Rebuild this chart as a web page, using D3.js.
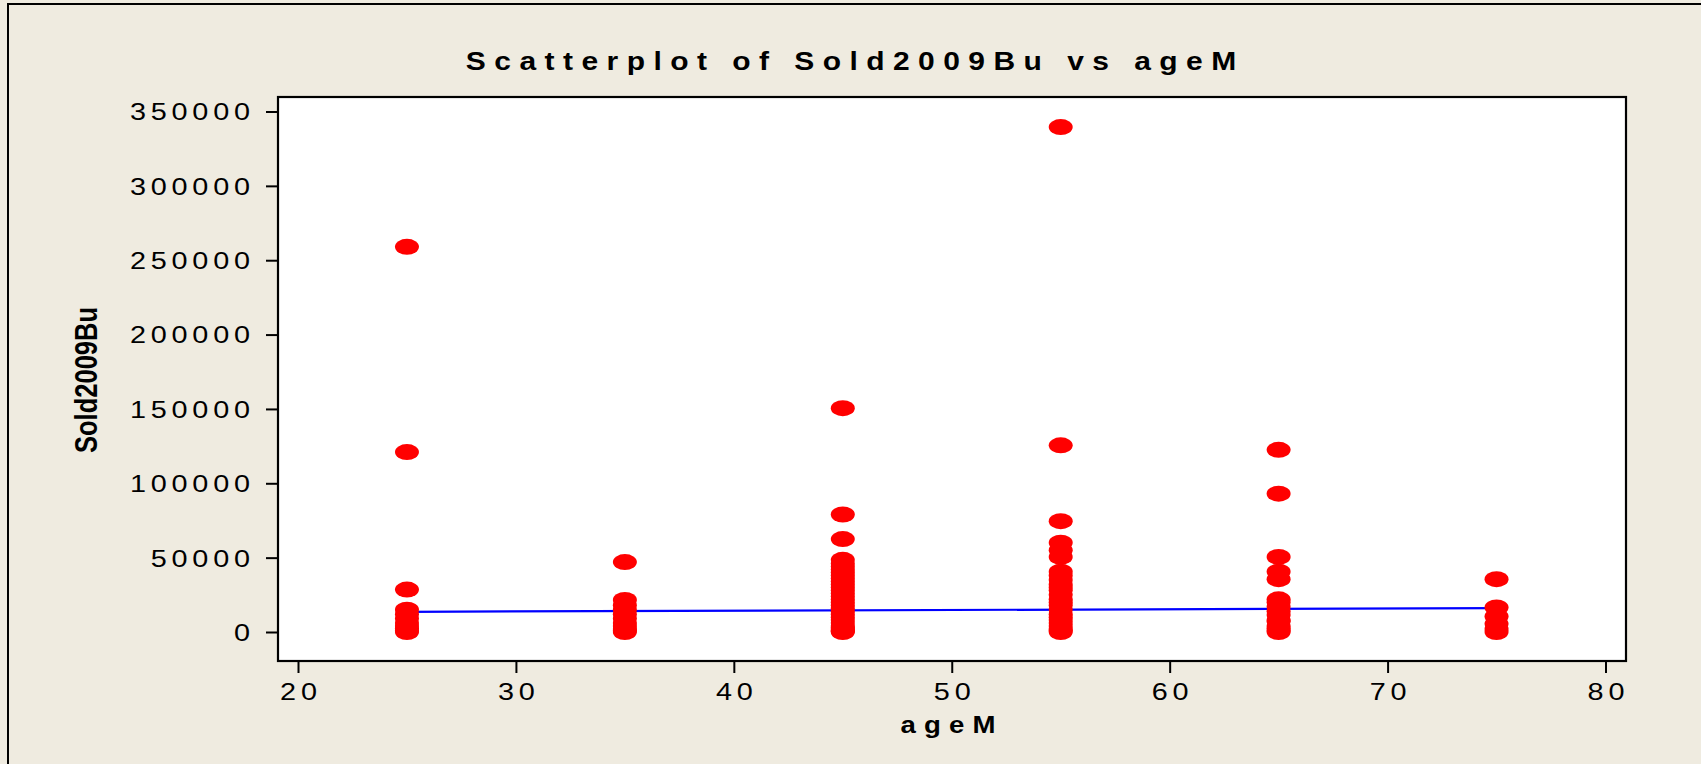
<!DOCTYPE html>
<html>
<head>
<meta charset="utf-8" />
<title>Scatterplot of Sold2009Bu vs ageM</title>
<script src="https://d3js.org/d3.v7.min.js"></script>
<style>
  body { margin: 0; background-color: #efebe0; overflow: hidden; }
  text { font-family: "Liberation Sans", Arial, sans-serif; fill: #000; }
</style>
</head>
<body>
<svg id="chart"></svg>
<script>
// age groups (x) and the Sold2009Bu values
var ages = [25, 35, 45, 55, 65, 75];
var sold25 = [259000, 121000, 28500, 15000, 12000, 9000, 6000, 4000, 2500, 1000, 0];
var sold35 = [47000, 21500, 18000, 15000, 12000, 9000, 6000, 4000, 2000, 1000, 0];
var sold45 = [150500, 79000, 62500, 48500, 46000, 44000, 42000, 40000, 38000, 36000, 34000,
              32000, 30000, 28000, 26000, 24000, 22000, 20000, 18000, 16000, 14000, 12000,
              10000, 8000, 6000, 4000, 3000, 2000, 1000, 500, 0];
var sold55 = [339500, 125500, 74500, 60000, 55000, 50500, 40500, 38000, 35000, 32000, 30000,
              28000, 25000, 22000, 20000, 18000, 15000, 12000, 10000, 8000, 6000, 4000,
              2000, 1000, 0];
var sold65 = [122500, 93000, 50500, 40500, 35500, 22000, 20000, 17000, 14000, 11500, 8000,
              7000, 4000, 2500, 1000, 0];
var sold75 = [35500, 16500, 10500, 5500, 2000, 0];
var soldByAge = [sold25, sold35, sold45, sold55, sold65, sold75];

// fitted regression line end points
var fitAge = [25, 75];
var fitSold = [13600, 16000];

var xTicks = [20, 30, 40, 50, 60, 70, 80];
var yTicks = [0, 50000, 100000, 150000, 200000, 250000, 300000, 350000];

var width = 1701, height = 764;
var plot = { left: 278, right: 1626, top: 97, bottom: 661 };
var sx = 1.2;   // the original picture is stretched sideways
var spacing = 4;

var svg = d3.select("#chart").attr("width", width).attr("height", height);

// outer frame
svg.append("rect")
  .attr("x", 8).attr("y", 4)
  .attr("width", 1800).attr("height", 900)
  .attr("fill", "#efebe0")
  .attr("stroke", "#000").attr("stroke-width", 2);

var x = d3.scaleLinear().domain([20, 80]).range([298, 1605.5]);
var y = d3.scaleLinear().domain([0, 350000]).range([632, 111.5]);

// plot area
svg.append("rect")
  .attr("x", plot.left).attr("y", plot.top)
  .attr("width", plot.right - plot.left).attr("height", plot.bottom - plot.top)
  .attr("fill", "#fff")
  .attr("stroke", "#000").attr("stroke-width", 2.2);

// y axis
var yAxis = d3.axisLeft(y).tickValues(yTicks).tickSize(12).tickSizeOuter(0)
  .tickFormat(function(d) { return d3.format("d")(d); });
var gy = svg.append("g").attr("transform", "translate(" + plot.left + ",0)").call(yAxis);
gy.select(".domain").remove();
gy.selectAll("line").attr("stroke", "#000").attr("stroke-width", 2);
gy.selectAll("text")
  .attr("x", null).attr("dy", "0.35em")
  .attr("transform", "translate(" + (-28 + spacing * sx) + ",0) scale(" + sx + ",1)")
  .attr("font-size", 24)
  .style("letter-spacing", spacing + "px")
  .attr("fill", "#000");

// x axis
var xAxis = d3.axisBottom(x).tickValues(xTicks).tickSize(12).tickSizeOuter(0);
var gx = svg.append("g").attr("transform", "translate(0," + plot.bottom + ")").call(xAxis);
gx.select(".domain").remove();
gx.selectAll("line").attr("stroke", "#000").attr("stroke-width", 2);
gx.selectAll("text")
  .attr("y", null).attr("dy", null)
  .attr("transform", "translate(" + (spacing * sx / 2) + ",39) scale(" + sx + ",1)")
  .attr("font-size", 24)
  .style("letter-spacing", spacing + "px")
  .attr("fill", "#000");

// regression line
var line = d3.line()
  .x(function(d) { return x(d[0]); })
  .y(function(d) { return y(d[1]); });
svg.append("path")
  .datum(d3.zip(fitAge, fitSold))
  .attr("d", line)
  .attr("fill", "none")
  .attr("stroke", "#0000ff")
  .attr("stroke-width", 2.2);

// points
var points = [];
ages.forEach(function(a, i) {
  soldByAge[i].forEach(function(v) { points.push({ age: a, sold: v }); });
});
svg.append("g").selectAll("ellipse")
  .data(points)
  .enter().append("ellipse")
  .attr("cx", function(d) { return x(d.age); })
  .attr("cy", function(d) { return y(d.sold); })
  .attr("rx", 12).attr("ry", 8)
  .attr("fill", "#ff0000");

// title
svg.append("g")
  .attr("transform", "translate(851,70) scale(" + sx + ",1)")
  .append("text")
  .attr("text-anchor", "middle")
  .attr("font-size", 25)
  .attr("font-weight", "bold")
  .attr("textLength", 642)
  .attr("lengthAdjust", "spacing")
  .text("Scatterplot of Sold2009Bu vs ageM");

// x label
svg.append("g")
  .attr("transform", "translate(948,733) scale(" + sx + ",1)")
  .append("text")
  .attr("text-anchor", "middle")
  .attr("font-size", 23)
  .attr("font-weight", "bold")
  .attr("textLength", 79)
  .attr("lengthAdjust", "spacing")
  .text("ageM");

// y label
svg.append("g")
  .attr("transform", "translate(97,380) scale(" + sx + ",1) rotate(-90)")
  .append("text")
  .attr("text-anchor", "middle")
  .attr("font-size", 25.5)
  .attr("font-weight", "bold")
  .text("Sold2009Bu");
</script>
</body>
</html>
